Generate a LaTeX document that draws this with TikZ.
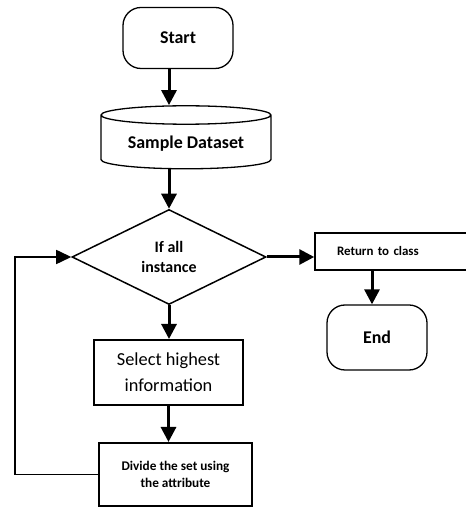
\documentclass[tikz,border=0pt]{standalone}
\usepackage{fontspec}
\setmainfont{Carlito}
\usetikzlibrary{shapes.geometric, arrows.meta}

\begin{document}
\begin{tikzpicture}
[x=1bp, y=1bp,
 term/.style={draw, line width=1.3bp, rectangle, rounded corners=18bp,
   font=\fontsize{18}{22}\selectfont\bfseries},
 data/.style={draw, line width=1.3bp, cylinder, shape border rotate=90, aspect=0.15,
   minimum width=170bp, minimum height=63bp, font=\fontsize{18}{22}\selectfont\bfseries},
 decision/.style={draw, line width=1.5bp, diamond, minimum width=194bp, minimum height=95bp,
   inner sep=0pt, align=center, font=\fontsize{16}{20.7}\selectfont\bfseries},
 process/.style={draw, line width=2bp, rectangle, align=center},
 flow/.style={line width=3bp, -{Triangle[width=15bp,length=15bp]}},
 loop/.style={line width=1.5bp, -{Triangle[width=14bp,length=15bp]}}
]
\useasboundingbox (0,0) rectangle (466,508);

\node[term, minimum width=110bp, minimum height=61bp] (start) at (178,470) {Start};
\node[data] (data) at (186,364.5) {Sample Dataset};
\node[decision] (dec) at (169,251) {If all\\instance};
\node[process, line width=1.5bp, minimum height=37bp, text width=116bp, inner xsep=22bp,
  align=left, font=\fontsize{13}{16}\selectfont\bfseries] (ret) at (395,256.5) {Return to class};
\node[term, minimum width=100bp, minimum height=65bp] (end) at (377,170.5) {End};
\node[process, minimum width=149bp, minimum height=65bp,
  font=\fontsize{18.4}{26}\selectfont] (sel) at (168.5,135.5) {Select highest\\information};
\node[process, minimum width=153bp, minimum height=63bp,
  font=\fontsize{13.3}{17.7}\selectfont\bfseries] (div) at (175.5,33.5) {Divide the set using\\the attribute};
\coordinate (back) at (15,33.5);% corner of the way back

\draw[flow] (start.south -| dec.north) -- (dec.north |- data.top);
\draw[flow] (data.bottom -| dec.north) -- (dec.north);
\draw[flow] (dec.east) -- (dec.east -| ret.west);
\draw[flow] ([xshift=-5bp]end.north |- ret.south) -- ([xshift=-5bp]end.north);
\draw[flow] (dec.south) -- (dec.south |- sel.north);
\draw[flow] (sel.south) -- (sel.south |- div.north);
\draw[loop] (div.west) -- (back) |- (dec.west);

\end{tikzpicture}
\end{document}
